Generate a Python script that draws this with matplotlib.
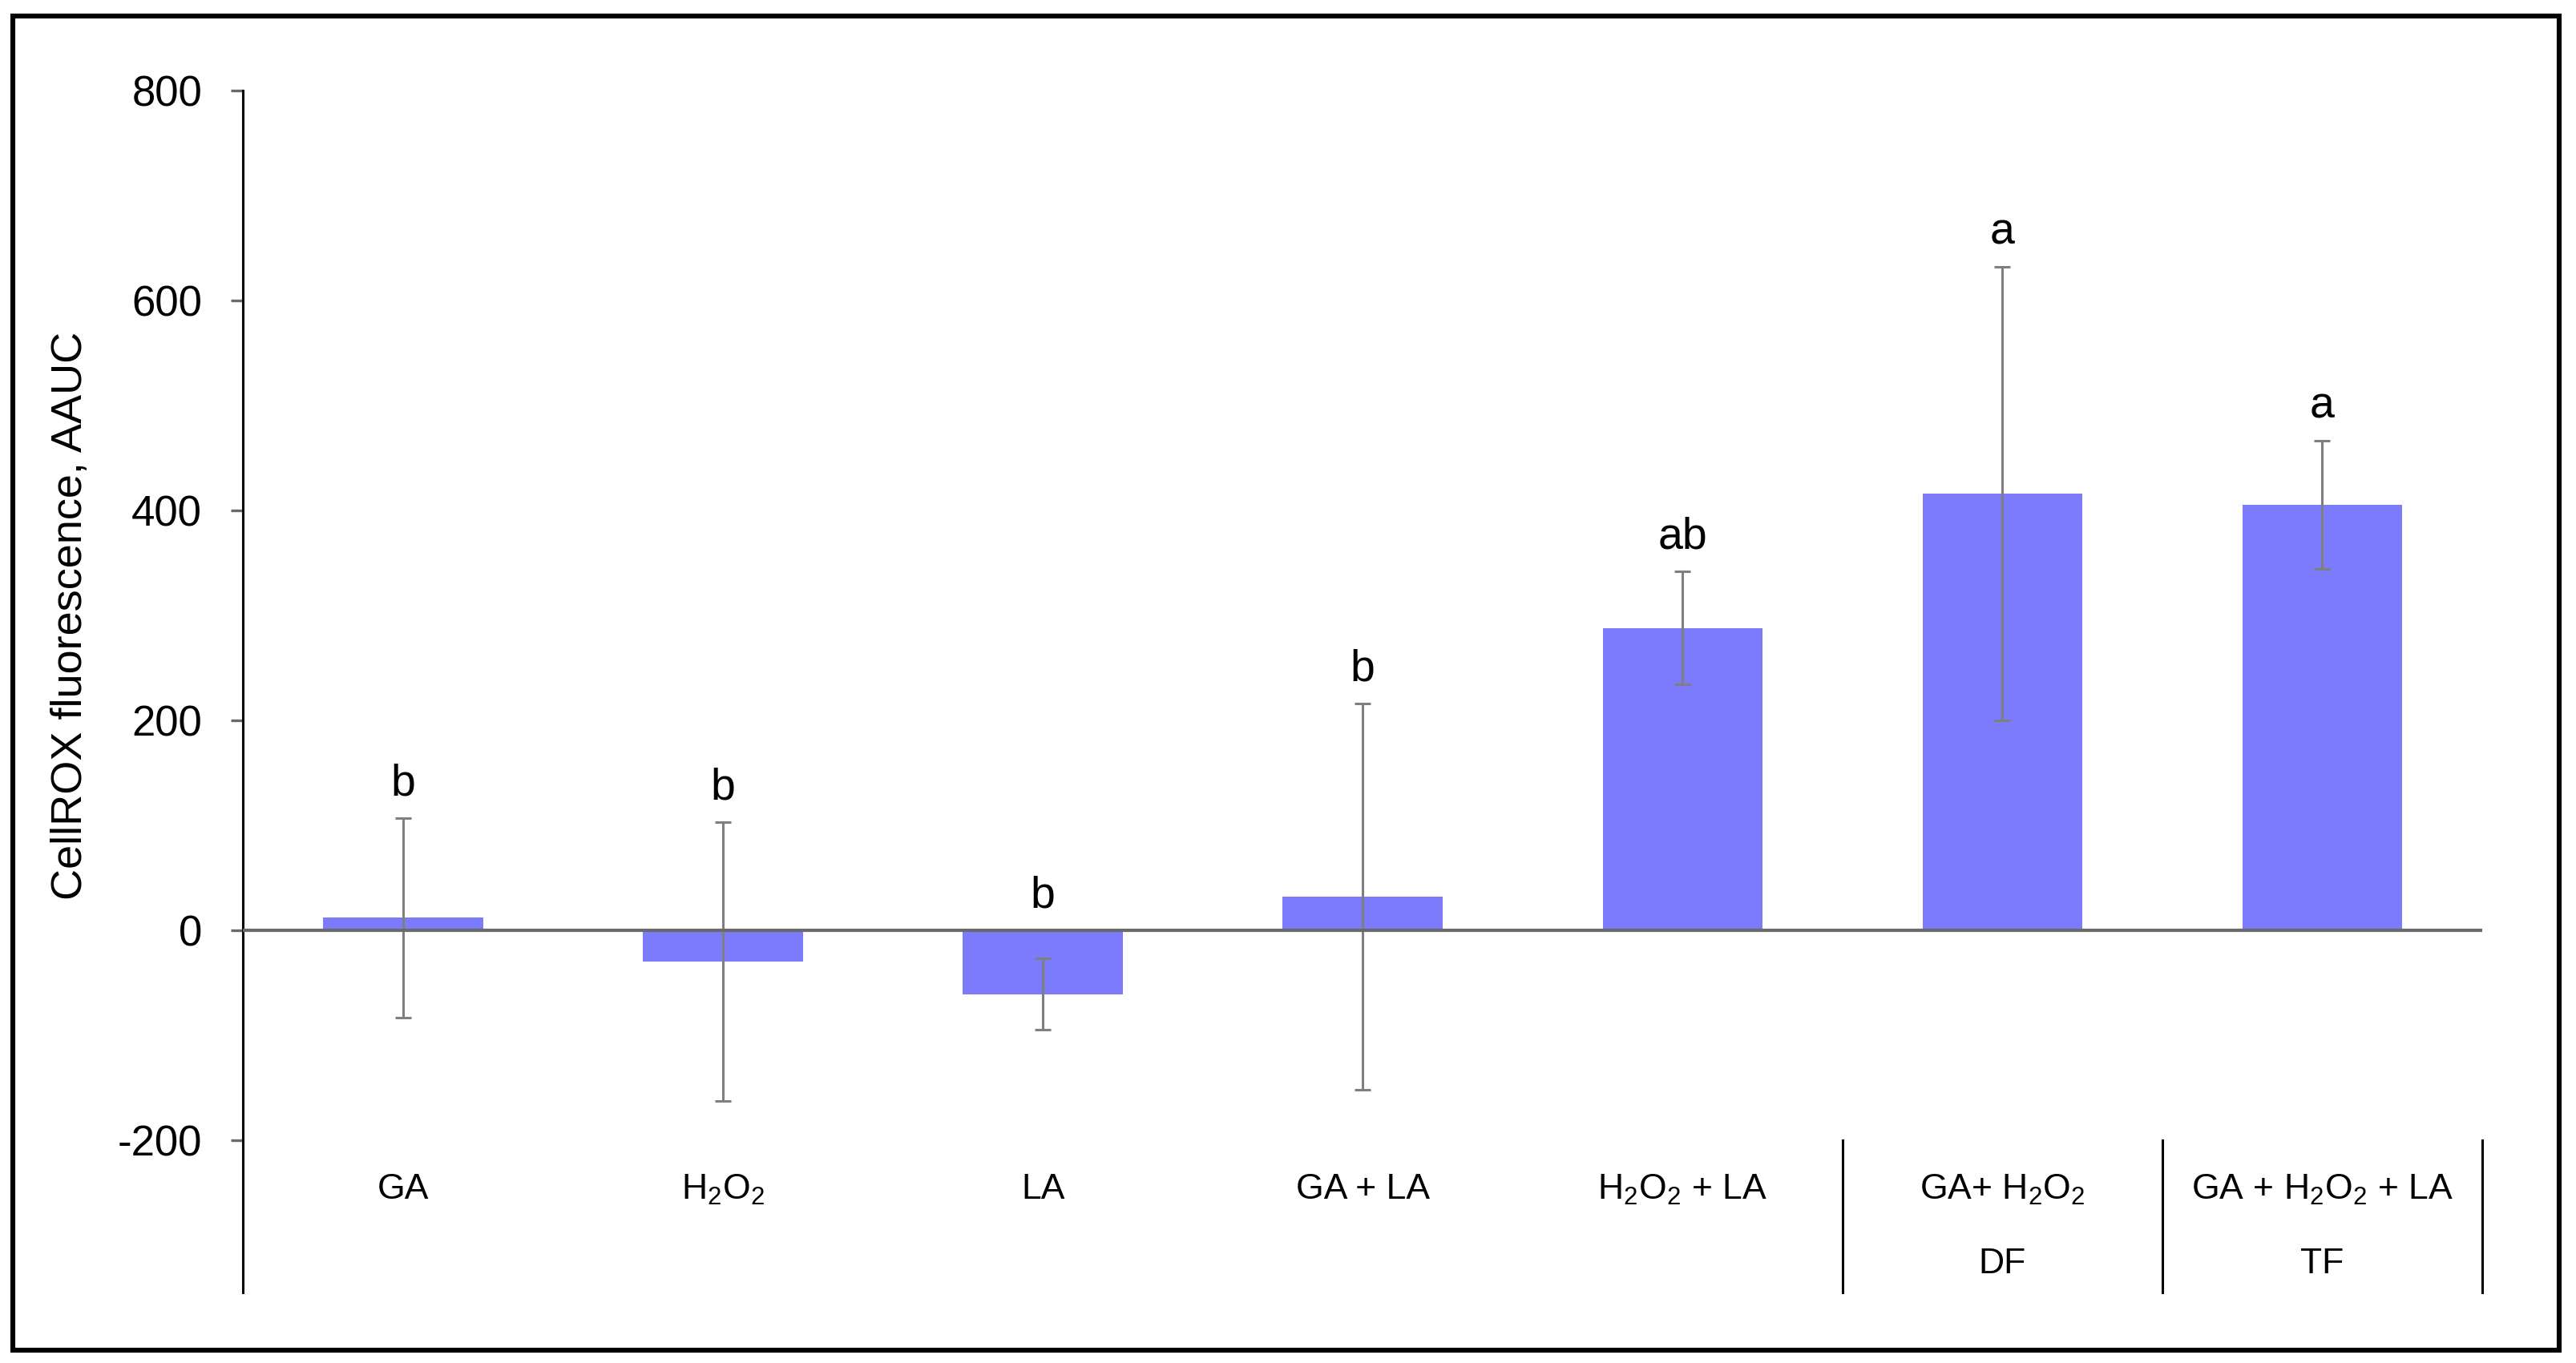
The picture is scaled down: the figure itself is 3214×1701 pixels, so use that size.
import matplotlib
matplotlib.use("Agg")
import matplotlib.pyplot as plt
import matplotlib.transforms as mtransforms
from matplotlib.patches import Rectangle

plt.rcParams['font.family'] = ['Liberation Sans', 'DejaVu Sans']
plt.rcParams['axes.unicode_minus'] = False

# data
labels = ['GA', r'$\mathregular{H_2O_2}$', 'LA', 'GA + LA',
          r'$\mathregular{H_2O_2}$ + LA', r'GA+ $\mathregular{H_2O_2}$',
          r'GA + $\mathregular{H_2O_2}$ + LA']
group_labels = ['', '', '', '', '', 'DF', 'TF']
means = [12, -30, -61, 32, 288, 416, 405]
errs = [95, 133, 34, 184, 54, 216, 61]
letters = ['b', 'b', 'b', 'b', 'ab', 'a', 'a']

bar_color = '#7b7bfc'
err_color = '#7f7f7f'

fig = plt.figure(figsize=(16.07, 8.505), dpi=200)
ax = fig.add_axes([0.0944, 0.0518, 0.8692, 0.8819])

x = list(range(len(means)))
ax.bar(x, means, width=0.5, color=bar_color, zorder=2)
ax.errorbar(x, means, yerr=errs, fmt='none', ecolor=err_color,
            elinewidth=1.1, capsize=3.6, capthick=1.1, zorder=3)
ax.axhline(0, color='#6a6a6a', lw=1.5, zorder=4)

for xi, m, e, s in zip(x, means, errs, letters):
    top = max(m + e, 0)
    ax.annotate(s, (xi, top), xytext=(0, 6), textcoords='offset points',
                ha='center', va='bottom', fontsize=20)

ax.set_xlim(-0.5, len(means) - 0.5)
ax.set_ylim(-345, 800)
ax.set_yticks([-200, 0, 200, 400, 600, 800])
ax.tick_params(axis='y', labelsize=19, length=5.5, width=1.2,
               color='#6a6a6a', pad=13)
ax.set_xticks([])
for side in ['top', 'right', 'bottom']:
    ax.spines[side].set_visible(False)
ax.spines['left'].set_linewidth(1.1)

ax.set_ylabel('CellROX fluorescence, AAUC', fontsize=19.5)
ax.yaxis.set_label_coords(-0.068, 0.563)

# category labels and group dividers
trans = mtransforms.blended_transform_factory(ax.transData, ax.transData)
for xi, lab, grp in zip(x, labels, group_labels):
    ax.text(xi, -247, lab, ha='center', va='center', fontsize=16,
            transform=trans)
    if grp:
        ax.text(xi, -318, grp, ha='center', va='center', fontsize=16,
                transform=trans)
for b in [4.5, 5.5, 6.5]:
    ax.plot([b, b], [-200, -345], color='black', lw=1.1, clip_on=False)

# frame round the whole figure
fig.patches.append(Rectangle((0.0051, 0.0096), 0.9885, 0.9784,
                             transform=fig.transFigure, fill=False,
                             edgecolor='black', lw=2.2))

fig.savefig('out.png', dpi=200)
